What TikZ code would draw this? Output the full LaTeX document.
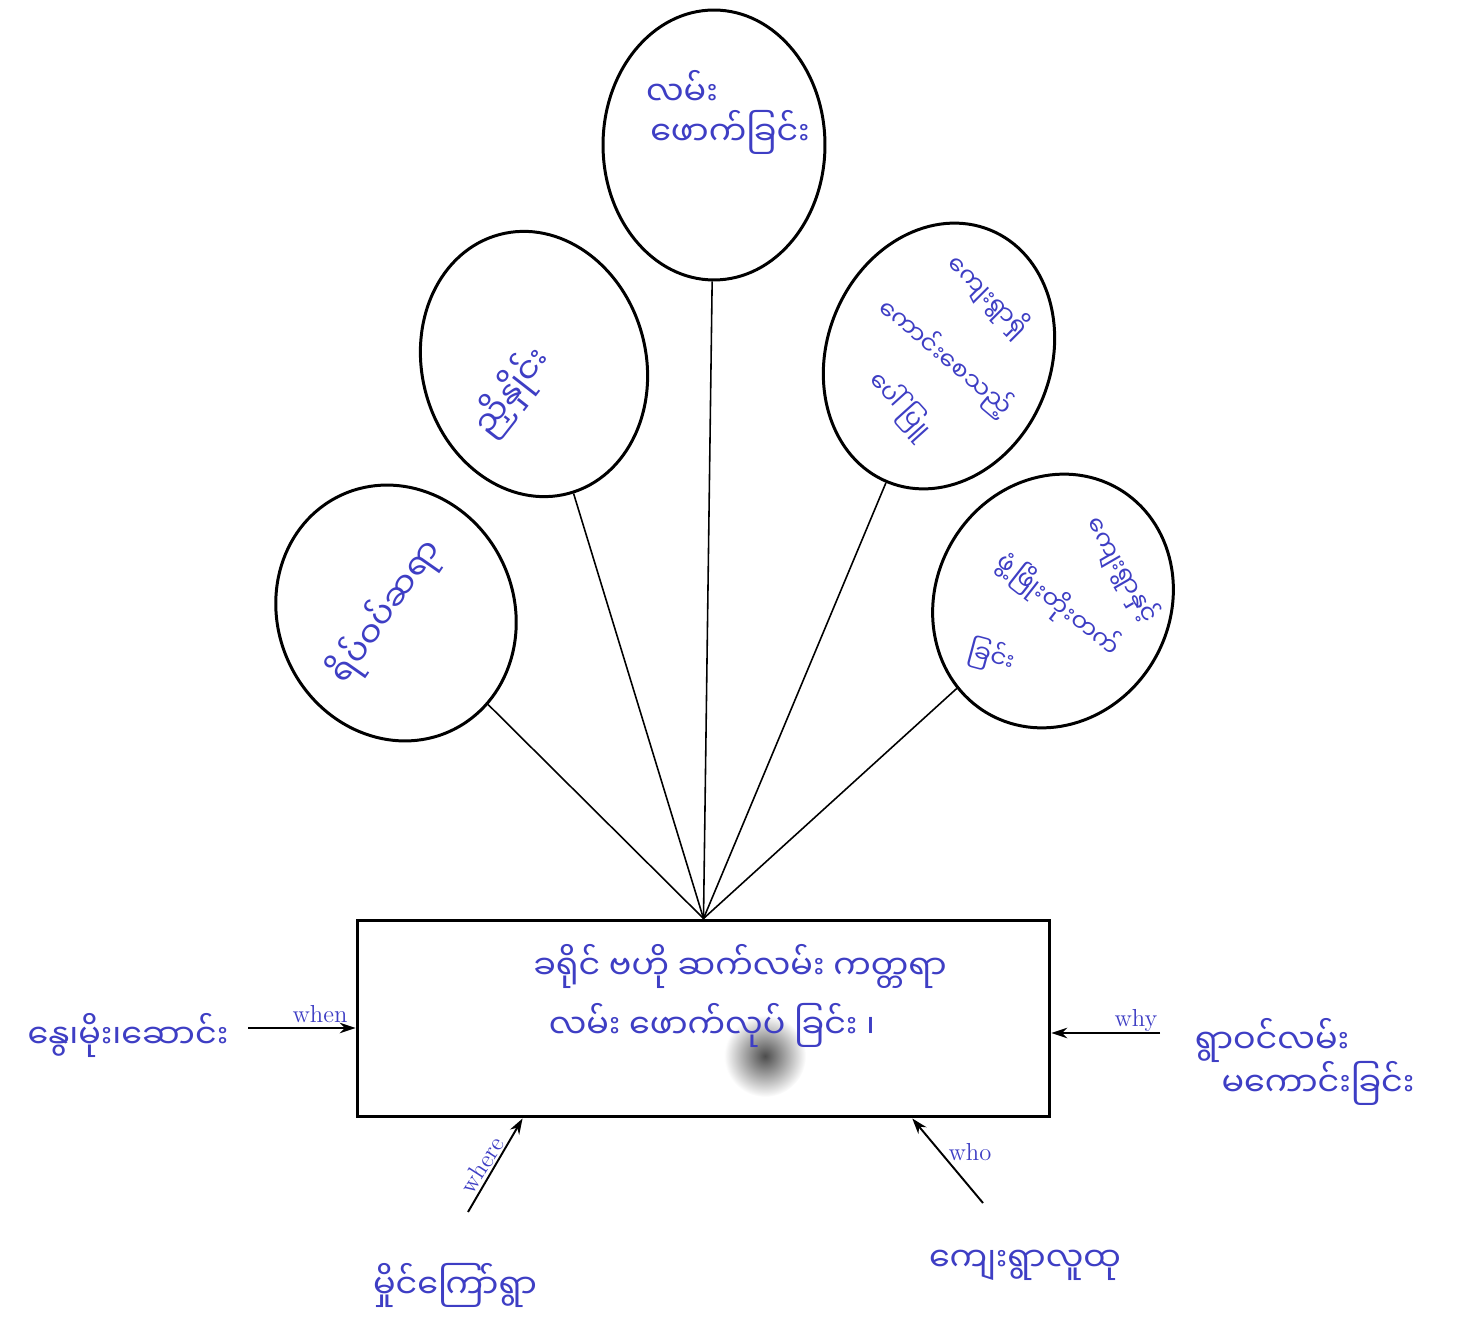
\documentclass[tikz,border=0pt]{standalone}
\usepackage{fontspec}
\newfontfamily\mmfont[Script=Myanmar]{Noto Sans Myanmar UI}
\usetikzlibrary{shapes.geometric,arrows.meta,calc}
\definecolor{ink}{RGB}{62,62,196}

\tikzset{
  bubble/.style={ellipse,draw,line width=1.7pt,inner sep=0pt},
  mm/.style={text=ink,font=\mmfont\fontsize{19}{23}\selectfont,inner sep=1pt,align=center},
  mmsmall/.style={mm,font=\mmfont\fontsize{14}{17}\selectfont},
  tag/.style={text=ink,font=\fontsize{14}{16}\selectfont,inner sep=1pt},
  arr/.style={-{Stealth[length=9pt,width=6pt]},line width=1.1pt}
}

\begin{document}
\begin{tikzpicture}[x=0.02cm,y=-0.02cm]
  \useasboundingbox (0,0) rectangle (1468,1321);

  % centre box
  \node[draw,line width=1.7pt,minimum width=13.86cm,minimum height=3.94cm,inner sep=0pt] (box) at (703.5,1018.5) {};
  \shade[inner color=black!70,outer color=white] (765,1056) circle [radius=0.82cm];

  % bubbles
  \begin{scope}[every node/.style={bubble}]
    \node[minimum width=4.44cm,minimum height=5.4cm]            (e1) at (714,145)  {};
    \node[minimum width=4.48cm,minimum height=5.36cm,rotate=15]  (e2) at (534,364)  {};
    \node[minimum width=4.48cm,minimum height=5.44cm,rotate=-22] (e3) at (939,356)  {};
    \node[minimum width=4.72cm,minimum height=5.2cm,rotate=25]   (e4) at (396,613)  {};
    \node[minimum width=4.68cm,minimum height=5.2cm,rotate=-30]  (e5) at (1053,601) {};
  \end{scope}

  \begin{scope}[every edge/.style={draw,line width=0.9pt}]
    \path (box.north) edge (e1);
    \path (box.north) edge (e2);
    \path (box.north) edge (e3);
    \path (box.north) edge (e4);
    \path (box.north) edge (e5);
  \end{scope}

  % texts in the bubbles
  \node[mm] (t1a) at (682,88)  {လမ်း};
  \node[mm] (t1b) at (730,132) {ဖောက်ခြင်း};
  \node[mm,rotate=52] (t2) at (512,392) {ညှိနှိုင်း};
  \node[mmsmall,rotate=-45] (t3a) at (988,296) {ကျေးရွာရှိ};
  \node[mmsmall,rotate=-40] (t3b) at (945,358) {ကောင်းစေသည့်};
  \node[mmsmall,rotate=-48] (t3c) at (900,405) {ပေါ်ပြူ};
  \node[mm,rotate=55] (t4) at (386,612) {ရိပ်ဝပ်ဆရာ};
  \node[mmsmall,rotate=-60] (t5a) at (1122,570) {ကျေးရွာနှင့်};
  \node[mmsmall,rotate=-38] (t5b) at (1058,605) {ဖွံ့ဖြိုးတိုးတက်};
  \node[mmsmall,rotate=-15] (t5c) at (992,656) {ခြင်း};

  % text in the box
  \node[mm] (b1) at (740,966)  {ခရိုင် ဗဟို ဆက်လမ်း ကတ္တရာ};
  \node[mm] (b2) at (712,1025) {လမ်း ဖောက်လုပ် ခြင်း ၊};

  % question arrows
  \coordinate (whenfrom)  at (248,1028);
  \coordinate (whyfrom)   at (1160,1033);
  \coordinate (wherefrom) at (468,1212);
  \coordinate (whofrom)   at (983,1203);
  \draw[arr] (whenfrom) -- (box.west |- whenfrom);
  \draw[arr] (whyfrom) -- (box.east |- whyfrom);
  \draw[arr] (wherefrom) -- ($(box.south west)!0.24!(box.south east)$);
  \draw[arr] (whofrom) -- ($(box.south west)!0.80!(box.south east)$);

  \node[tag] (when)  at (320,1014) {when};
  \node[tag] (why)   at (1136,1020) {why};
  \node[tag,rotate=57] (where) at (482,1165) {where};
  \node[tag] (who)   at (970,1152) {who};

  % answers
  \node[mm] (a1) at (128,1035) {နွေ၊မိုး၊ဆောင်း};
  \node[mm] (a2) at (1272,1040) {ရွာဝင်လမ်း};
  \node[mm] (a3) at (1318,1083) {မကောင်းခြင်း};
  \node[mm] (a4) at (455,1285) {မှိုင်ကြော်ရွာ};
  \node[mm] (a5) at (1025,1265) {ကျေးရွာလူထု};
\end{tikzpicture}
\end{document}
